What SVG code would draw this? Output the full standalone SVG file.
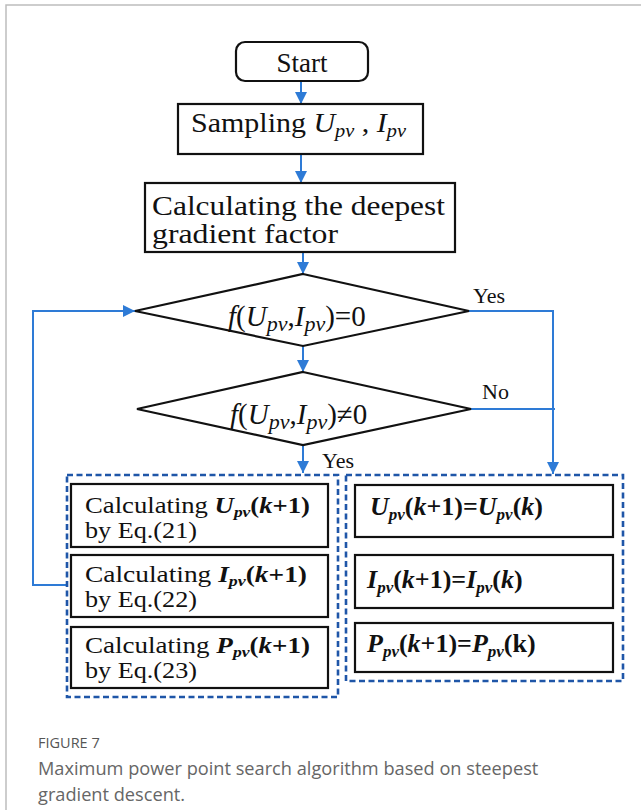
<svg xmlns="http://www.w3.org/2000/svg" width="641" height="810" viewBox="0 0 641 810">
<defs>
<marker id="ah" markerUnits="userSpaceOnUse" markerWidth="12" markerHeight="12" viewBox="0 0 10 10" refX="10" refY="5" orient="auto">
<path d="M0,0 L10,5 L0,10 z" fill="#2e7bd6"/>
</marker>
<style>
.box{fill:#fff;stroke:#111;stroke-width:2.2}
.dia{fill:#fff;stroke:#111;stroke-width:2.2}
.dash{fill:none;stroke:#1f56a8;stroke-width:2.6;stroke-dasharray:6 3.5}
.con{fill:none;stroke:#2e7bd6;stroke-width:2}
.arr{fill:none;stroke:#2e7bd6;stroke-width:2;marker-end:url(#ah)}
.t{font-family:"Liberation Serif","Times New Roman",serif;fill:#111}
.i{font-style:italic}
.bi{font-style:italic;font-weight:bold}
.b{font-weight:bold}
.cap{font-family:"Open Sans","Noto Sans",sans-serif}
</style>
</defs>
<rect width="641" height="810" fill="#fff"/>
<path d="M6,810 V5 H641" fill="none" stroke="#bdbdbd" stroke-width="1.5"/>

<g id="connectors">
<line class="arr" x1="301" y1="81" x2="301" y2="104"/>
<line class="arr" x1="301" y1="154" x2="301" y2="183"/>
<line class="arr" x1="303" y1="252" x2="303" y2="274"/>
<line class="arr" x1="303" y1="346" x2="303" y2="372"/>
<line class="arr" x1="303" y1="445" x2="303" y2="473"/>
<polyline class="arr" points="469,311 553,311 553,474"/>
<line class="con" x1="471" y1="409" x2="555" y2="409"/>
<polyline class="arr" points="67,585 33,585 33,311 135,311"/>
<text class="t" x="473" y="303" font-size="22">Yes</text>
<text class="t" x="482" y="399" font-size="22">No</text>
<text class="t" x="322" y="468" font-size="22">Yes</text>
</g>

<g id="start">
<rect class="box" x="236" y="42" width="132" height="39" rx="9" stroke-width="2.6"/>
<text class="t" x="302" y="72" font-size="27" text-anchor="middle">Start</text>
</g>

<g id="sampling">
<rect class="box" x="178" y="104" width="245" height="50"/>
<text class="t" x="191" y="132" font-size="28" textLength="215" lengthAdjust="spacingAndGlyphs">Sampling <tspan class="i">U</tspan><tspan class="i" font-size="19" dy="5">pv</tspan><tspan dy="-5"> , </tspan><tspan class="i">I</tspan><tspan class="i" font-size="19" dy="5">pv</tspan></text>
</g>

<g id="gradient">
<rect class="box" x="145" y="183" width="310" height="69"/>
<text class="t" x="152" y="215" font-size="27" textLength="293" lengthAdjust="spacingAndGlyphs">Calculating the deepest</text>
<text class="t" x="152" y="243" font-size="27" textLength="186" lengthAdjust="spacingAndGlyphs">gradient factor</text>
</g>

<g id="decision1">
<polygon class="dia" points="303,274 469,311 303,346 135,311"/>
<text class="t" x="228" y="326" font-size="29"><tspan class="i">f</tspan>(<tspan class="i">U</tspan><tspan class="i" font-size="22" dy="5">pv</tspan><tspan dy="-5">,</tspan><tspan class="i">I</tspan><tspan class="i" font-size="22" dy="5">pv</tspan><tspan dy="-5">)=0</tspan></text>
</g>

<g id="decision2">
<polygon class="dia" points="303,372 471,409 303,445 137,409"/>
<text class="t" x="230" y="424" font-size="29"><tspan class="i">f</tspan>(<tspan class="i">U</tspan><tspan class="i" font-size="22" dy="5">pv</tspan><tspan dy="-5">,</tspan><tspan class="i">I</tspan><tspan class="i" font-size="22" dy="5">pv</tspan><tspan dy="-5">)≠0</tspan></text>
</g>

<g id="group-update">
<rect class="dash" x="67" y="475" width="271" height="222"/>
</g>
<g id="calc-u">
<rect class="box" x="71" y="484" width="257" height="63"/>
<text class="t" x="85" y="513" font-size="23" textLength="225" lengthAdjust="spacingAndGlyphs">Calculating <tspan class="bi">U</tspan><tspan class="bi" font-size="15" dy="4">pv</tspan><tspan class="b" dy="-4">(</tspan><tspan class="bi">k</tspan><tspan class="b">+1)</tspan></text>
<text class="t" x="85" y="538" font-size="23" textLength="112" lengthAdjust="spacingAndGlyphs">by Eq.(21)</text>
</g>
<g id="calc-i">
<rect class="box" x="71" y="555" width="257" height="62"/>
<text class="t" x="85" y="582" font-size="23" textLength="222" lengthAdjust="spacingAndGlyphs">Calculating <tspan class="bi">I</tspan><tspan class="bi" font-size="15" dy="4">pv</tspan><tspan class="b" dy="-4">(</tspan><tspan class="bi">k</tspan><tspan class="b">+1)</tspan></text>
<text class="t" x="85" y="607" font-size="23" textLength="112" lengthAdjust="spacingAndGlyphs">by Eq.(22)</text>
</g>
<g id="calc-p">
<rect class="box" x="71" y="627" width="257" height="61"/>
<text class="t" x="85" y="653" font-size="23" textLength="225" lengthAdjust="spacingAndGlyphs">Calculating <tspan class="bi">P</tspan><tspan class="bi" font-size="15" dy="4">pv</tspan><tspan class="b" dy="-4">(</tspan><tspan class="bi">k</tspan><tspan class="b">+1)</tspan></text>
<text class="t" x="85" y="678" font-size="23" textLength="112" lengthAdjust="spacingAndGlyphs">by Eq.(23)</text>
</g>

<g id="group-keep">
<rect class="dash" x="346" y="475" width="277" height="206"/>
</g>
<g id="keep-u">
<rect class="box" x="355" y="485" width="258" height="52"/>
<text class="t" x="370" y="515" font-size="26"><tspan class="bi">U</tspan><tspan class="bi" font-size="17" dy="5">pv</tspan><tspan class="b" dy="-5">(</tspan><tspan class="bi">k</tspan><tspan class="b">+1)=</tspan><tspan class="bi">U</tspan><tspan class="bi" font-size="17" dy="5">pv</tspan><tspan class="b" dy="-5">(</tspan><tspan class="bi">k</tspan><tspan class="b">)</tspan></text>
</g>
<g id="keep-i">
<rect class="box" x="355" y="555" width="258" height="53"/>
<text class="t" x="367" y="588" font-size="26"><tspan class="bi">I</tspan><tspan class="bi" font-size="17" dy="5">pv</tspan><tspan class="b" dy="-5">(</tspan><tspan class="bi">k</tspan><tspan class="b">+1)=</tspan><tspan class="bi">I</tspan><tspan class="bi" font-size="17" dy="5">pv</tspan><tspan class="b" dy="-5">(</tspan><tspan class="bi">k</tspan><tspan class="b">)</tspan></text>
</g>
<g id="keep-p">
<rect class="box" x="355" y="623" width="258" height="49"/>
<text class="t" x="367" y="652" font-size="26"><tspan class="bi">P</tspan><tspan class="bi" font-size="17" dy="5">pv</tspan><tspan class="b" dy="-5">(</tspan><tspan class="bi">k</tspan><tspan class="b">+1)=</tspan><tspan class="bi">P</tspan><tspan class="bi" font-size="17" dy="5">pv</tspan><tspan class="b" dy="-5">(k)</tspan></text>
</g>

<g id="caption">
<text class="cap" x="38" y="748" font-size="14.5" fill="#555">FIGURE 7</text>
<text class="cap" x="38" y="775" font-size="18.2" fill="#666">Maximum power point search algorithm based on steepest</text>
<text class="cap" x="38" y="801" font-size="18.2" fill="#666">gradient descent.</text>
</g>
</svg>
